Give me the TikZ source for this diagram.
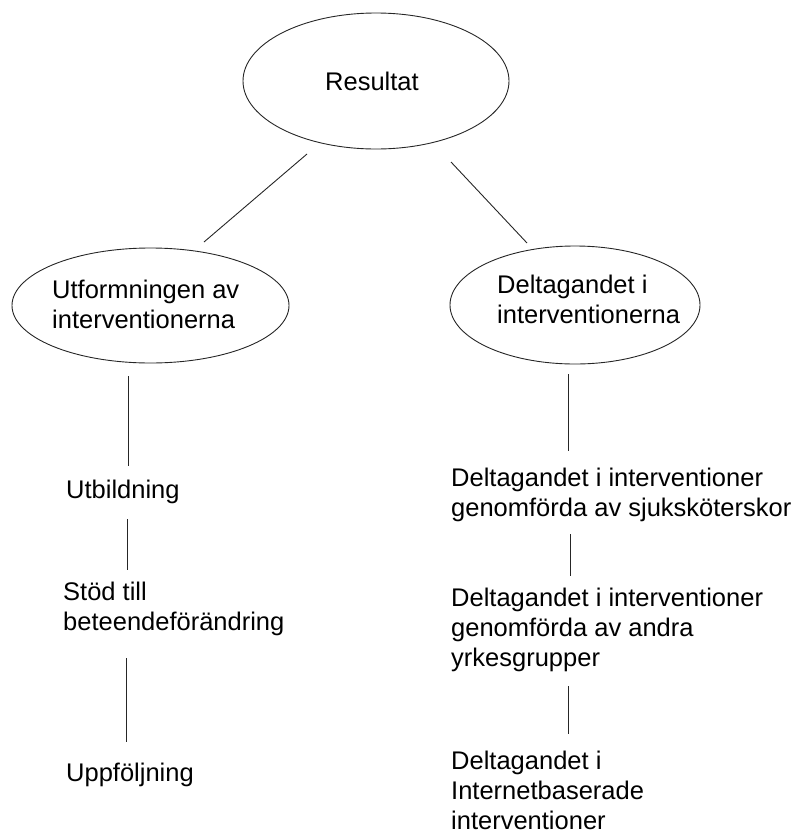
\documentclass[tikz,border=0pt]{standalone}
\usepackage{fontspec}
\setmainfont{Liberation Sans}
\usetikzlibrary{shapes.geometric}
\begin{document}
\begin{tikzpicture}[x=1pt,y=-1pt,
  oval/.style={draw=black!85,line width=0.9pt,ellipse,inner sep=0pt},
  lbl/.style={inner sep=0pt,anchor=base west,align=left,font=\fontsize{25.5}{30}\selectfont},
  conn/.style={draw=black!85,line width=0.9pt}]
\useasboundingbox (0,0) rectangle (802,833);
% ellipses
\node[oval,minimum width=266pt,minimum height=136pt] (res) at (376,81) {};
\node[oval,minimum width=277pt,minimum height=115pt] (utf) at (150.5,305.5) {};
\node[oval,minimum width=250pt,minimum height=118pt] (del) at (575,305) {};
% ellipse texts (anchor = baseline of last line)
\node[lbl] (restxt) at (325,90) {Resultat};
\node[lbl] (utftxt) at (52,328) {Utformningen av\\interventionerna};
\node[lbl] (deltxt) at (497,323) {Deltagandet i\\interventionerna};
% left column
\node[lbl] (utb) at (66,498) {Utbildning};
\node[lbl] (stod) at (63,630) {Stöd till\\beteendeförändring};
\node[lbl] (upp) at (66,781) {Uppföljning};
% right column
\node[lbl] (d1) at (451,516) {Deltagandet i interventioner\\genomförda av sjuksköterskor};
\node[lbl] (d2) at (451,666) {Deltagandet i interventioner\\genomförda av andra\\yrkesgrupper};
\node[lbl] (d3) at (451,829) {Deltagandet i\\Internetbaserade\\interventioner};
% connector end points
\coordinate (a1) at (307,154); \coordinate (a2) at (204,242);
\coordinate (b1) at (451,162); \coordinate (b2) at (527,243);
\coordinate (l1) at (128,376); \coordinate (l2) at (128,466);
\coordinate (l3) at (127,519); \coordinate (l4) at (127,570);
\coordinate (l5) at (126,658); \coordinate (l6) at (126,742);
\coordinate (r1) at (568,374); \coordinate (r2) at (568,451);
\coordinate (r3) at (570,534); \coordinate (r4) at (570,576);
\coordinate (r5) at (568,686); \coordinate (r6) at (568,734);
\draw[conn] (a1) -- (a2);
\draw[conn] (b1) -- (b2);
\draw[conn] (l1) -- (l2);
\draw[conn] (l3) -- (l4);
\draw[conn] (l5) -- (l6);
\draw[conn] (r1) -- (r2);
\draw[conn] (r3) -- (r4);
\draw[conn] (r5) -- (r6);
\end{tikzpicture}
\end{document}
